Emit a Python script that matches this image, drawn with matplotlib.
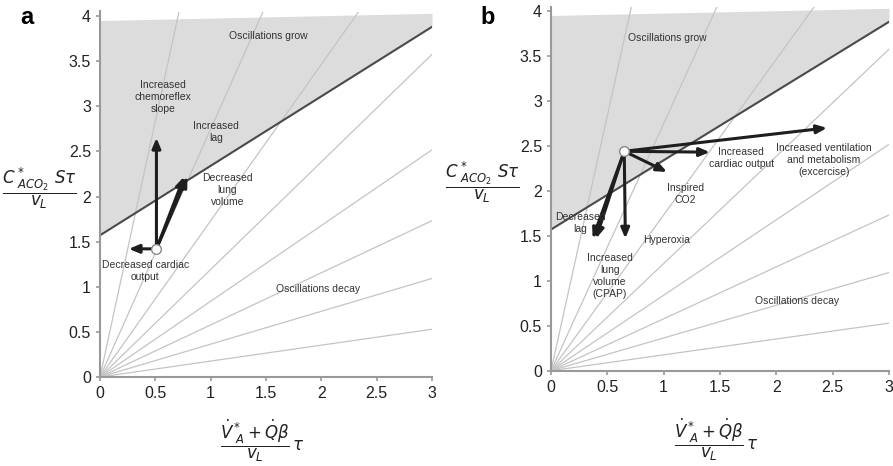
import numpy as np
import matplotlib.pyplot as plt
from matplotlib import transforms

plt.rcParams['font.family'] = ['Liberation Sans', 'DejaVu Sans']

# stability boundary and shaded region (same in both panels)
boundary_x = [0.0, 3.0]
boundary_y = [1.57, 3.88]
shade_top = [3.95, 4.03]

# iso-lines from the origin, degrees
ray_angles = [10, 20, 30, 40, 50, 60, 70, 80]

# panel a: operating point and arrow tips
a_start = (0.51, 1.42)
a_tips_x = [0.51, 0.26, 0.76, 0.79]
a_tips_y = [2.65, 1.42, 2.22, 2.22]
a_labels = ["Increased\nchemoreflex\nslope", "Increased\nlag", "Decreased\nlung\nvolume",
            "Decreased cardiac\noutput", "Oscillations grow", "Oscillations decay"]
a_label_x = [0.57, 1.05, 1.15, 0.41, 1.52, 1.97]
a_label_y = [3.1, 2.71, 2.07, 1.17, 3.78, 0.97]

# panel b
b_start = (0.65, 2.44)
b_tips_x = [2.45, 1.41, 1.03, 0.66, 0.37, 0.40]
b_tips_y = [2.70, 2.43, 2.21, 1.47, 1.47, 1.47]
b_labels = ["Increased\ncardiac output", "Increased ventilation\nand metabolism\n(excercise)",
            "Inspired\nCO2", "Decreased\nlag", "Hyperoxia", "Increased\nlung\nvolume\n(CPAP)",
            "Oscillations grow", "Oscillations decay"]
b_label_x = [1.69, 2.42, 1.19, 0.26, 1.03, 0.52, 1.03, 2.18]
b_label_y = [2.36, 2.34, 1.97, 1.64, 1.45, 1.05, 3.70, 0.78]

ylab = r'$\dfrac{C^*_{\ ACO_2}\ S\tau}{v_L}$'
xlab = r'$\dfrac{\dot{V}^*_{\ A} + \dot{Q}\beta}{v_L}\,\tau$'

fig = plt.figure(figsize=(8.93, 4.66), dpi=100)
ax_a = fig.add_axes([100/893, 89/466, 332/893, 365.5/466])
ax_b = fig.add_axes([551/893, 95.3/466, 338/893, 364.2/466])


def base(ax):
    ax.set_xlim(0, 3)
    ax.set_ylim(0, 4.05)
    xs = np.array(boundary_x)
    ax.fill_between(xs, boundary_y, shade_top, color='#dcdcdc', lw=0, zorder=0)
    for ang in ray_angles:
        m = np.tan(np.radians(ang))
        ax.plot([0, 10], [0, 10 * m], color='#c4c4c4', lw=0.9, zorder=1)
    ax.plot(boundary_x, boundary_y, color='#4a4a4a', lw=1.5, zorder=2)
    for s in ['top', 'right']:
        ax.spines[s].set_visible(False)
    for s in ['left', 'bottom']:
        ax.spines[s].set_color('#999999')
        ax.spines[s].set_linewidth(1.5)
    ax.set_xticks([0, 0.5, 1, 1.5, 2, 2.5, 3])
    ax.set_xticklabels(['0', '0.5', '1', '1.5', '2', '2.5', '3'])
    ax.set_yticks([0, 0.5, 1, 1.5, 2, 2.5, 3, 3.5, 4])
    ax.set_yticklabels(['0', '0.5', '1', '1.5', '2', '2.5', '3', '3.5', '4'])
    ax.tick_params(labelsize=11.5, colors='#999999', labelcolor='#222222',
                   length=3, width=1.2)


def arrows(ax, start, tx, ty):
    for x, y in zip(tx, ty):
        ax.annotate('', xy=(x, y), xytext=start,
                    arrowprops=dict(arrowstyle='-|>,head_length=0.6,head_width=0.25',
                                    color='#1e1e1e', lw=2.2, shrinkA=0, shrinkB=0),
                    zorder=4)
    ax.plot(*start, 'o', ms=7, mfc='white', mec='#888888', mew=1, zorder=5)


def labels(ax, txt, lx, ly):
    for t, x, y in zip(txt, lx, ly):
        ax.text(x, y, t, ha='center', va='center', fontsize=7.5, color='#333333',
                linespacing=1.25, zorder=6)


for ax in (ax_a, ax_b):
    base(ax)
arrows(ax_a, a_start, a_tips_x, a_tips_y)
arrows(ax_b, b_start, b_tips_x, b_tips_y)
labels(ax_a, a_labels, a_label_x, a_label_y)
labels(ax_b, b_labels, b_label_x, b_label_y)

for ax, yx, yy, xy in ((ax_a, -0.07, 2.09, -0.174), (ax_b, -0.092, 2.09, -0.19)):
    tr = transforms.blended_transform_factory(ax.transAxes, ax.transData)
    ax.text(yx, yy, ylab, transform=tr, ha='right', va='center', fontsize=12, color='#222222')
    ax.text(0.49, xy, xlab, transform=ax.transAxes, ha='center', va='center',
            fontsize=12, color='#222222')

fig.text(27/893, 1 - 18/466, 'a', fontsize=17, fontweight='bold', ha='center', va='center')
fig.text(488/893, 1 - 17/466, 'b', fontsize=17, fontweight='bold', ha='center', va='center')

fig.savefig('out.png', dpi=100)
